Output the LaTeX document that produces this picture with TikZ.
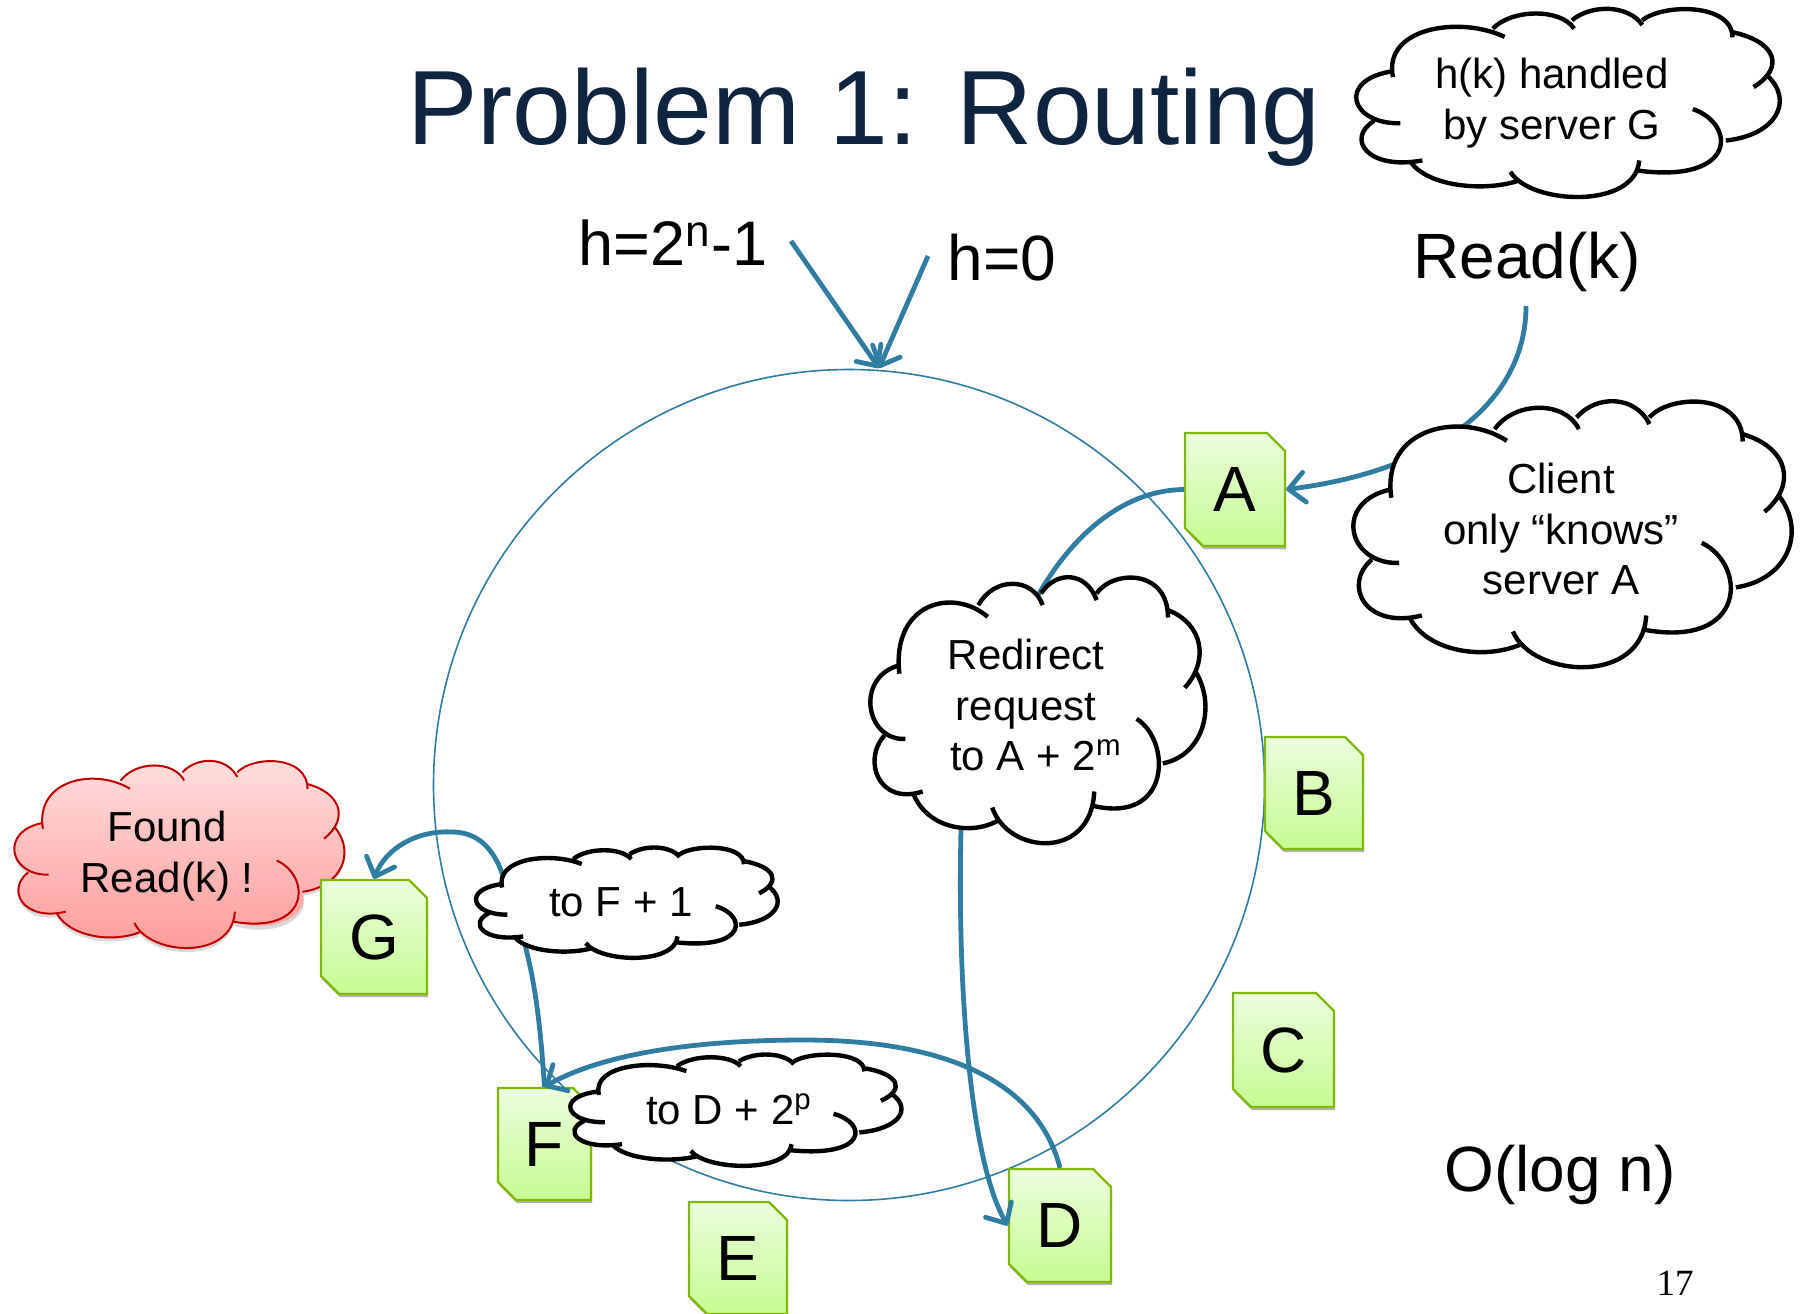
\documentclass[tikz,border=0pt]{standalone}
\usepackage{fontspec}
\setmainfont{Liberation Sans}
\newfontfamily\pagenumfont{Liberation Serif}
\usetikzlibrary{arrows.meta,shapes.misc,shadows}
\definecolor{ringblue}{HTML}{2F7EA2}
\definecolor{titlenavy}{HTML}{0F243E}
\definecolor{srvtop}{HTML}{ECFDDD}
\definecolor{srvbot}{HTML}{C6FB92}
\definecolor{srvline}{HTML}{7FB800}
\definecolor{redtop}{HTML}{FFDFDF}
\definecolor{redbot}{HTML}{FF9797}
\definecolor{redline}{HTML}{C00000}
\newcommand{\cloudoutline}{%
 (178,340) .. controls (155,130) and (330,80) .. (432,170)
 -- (405,135) .. controls (450,50) and (560,50) .. (590,135)
 -- (585,100) .. controls (630,30) and (715,35) .. (745,120)
 -- (745,100) .. controls (790,30) and (950,25) .. (950,172)
 -- (950,150) .. controls (1050,190) and (1070,300) .. (998,382)
 -- (1030,335) .. controls (1090,440) and (1050,585) .. (935,608)
 -- (935,608) .. controls (960,700) and (860,790) .. (735,735)
 -- (738,692) .. controls (730,900) and (490,880) .. (445,740)
 -- (460,780) .. controls (380,825) and (260,800) .. (220,703)
 -- (245,692) .. controls (120,735) and (70,600) .. (135,525)
 -- (195,535) .. controls (80,540) and (50,350) .. (178,315) -- cycle}
\newcommand{\cloudstrokes}{%
 (178,340) .. controls (155,130) and (330,80) .. (432,170)
 (405,135) .. controls (450,50) and (560,50) .. (590,135)
 (585,100) .. controls (630,30) and (715,35) .. (745,120)
 (745,100) .. controls (790,30) and (950,25) .. (950,172)
 (950,150) .. controls (1050,190) and (1070,300) .. (998,382)
 (1030,335) .. controls (1090,440) and (1050,585) .. (935,608)
 (860,475) .. controls (960,540) and (960,790) .. (735,735)
 (738,692) .. controls (730,900) and (490,880) .. (445,740)
 (460,780) .. controls (380,825) and (260,800) .. (220,703)
 (245,692) .. controls (120,735) and (70,600) .. (135,525)
 (195,535) .. controls (80,540) and (50,350) .. (178,315)}
% x y w h fillstyle strokestyle
\newcommand{\placecloud}[6]{%
 \pgfmathsetmacro\sx{#3/980}\pgfmathsetmacro\sy{#4/807}%
 \begin{scope}[shift={({#1-85*\sx},{#2-48*\sy})},xscale=\sx,yscale=\sy]
  \path[#5] \cloudoutline;
  \draw[#6] \cloudstrokes;
 \end{scope}}
\tikzset{
 srv/.style={chamfered rectangle,chamfered rectangle corners={north east,south west},
  chamfered rectangle xsep=4.5pt,chamfered rectangle ysep=4.5pt,inner sep=0pt,draw=srvline,line width=1.2pt,
  top color=srvtop,bottom color=srvbot,font=\fontsize{32}{36}\selectfont,
  drop shadow={shadow xshift=.5pt,shadow yshift=-1.5pt,opacity=.3,fill=black}},
 link/.style={draw=ringblue,line width=2.4pt},
 tip/.style={-{Straight Barb[length=8pt,width=15pt,line width=2.4pt,round]}},
 bigtxt/.style={font=\fontsize{32}{36}\selectfont,anchor=base,inner sep=0pt},
 cloudtxt/.style={font=\fontsize{21}{25.3}\selectfont,align=center,inner sep=0pt},
 plaincloud/.style={fill=white},
 blackline/.style={draw=black,line width=2.2pt},
}
\begin{document}
\begin{tikzpicture}[x=.5pt,y=-.5pt]
\useasboundingbox (0,0) rectangle (1802,1313);
\node[font=\fontsize{52.8}{60}\selectfont,text=titlenavy,anchor=base,inner sep=0pt] (title) at (864,144) {Problem 1: Routing};
\draw[ringblue,line width=.8pt] (849,785) circle [x radius=415.5,y radius=415.5];
% red cloud
\placecloud{11}{760}{336}{190}{top color=redtop,bottom color=redbot,drop shadow={shadow xshift=0pt,shadow yshift=-2pt,opacity=.15,fill=black}}{draw=redline,line width=1pt}
% servers
\node[srv,minimum width=50pt,minimum height=56.5pt] (A) at (1235,489.5) {A};
\node[srv,minimum width=49pt,minimum height=56pt] (B) at (1314,793) {B};
\node[srv,minimum width=50.5pt,minimum height=57pt] (C) at (1283.5,1050) {C};
\node[srv,minimum width=51pt,minimum height=56.5pt] (D) at (1060,1225.5) {D};
\node[srv,minimum width=49pt,minimum height=56pt] (E) at (738,1258) {E};
\node[srv,minimum width=46.5pt,minimum height=56pt] (F) at (544.5,1144) {F};
\node[srv,minimum width=53pt,minimum height=57pt] (G) at (374,937) {G};
% labels
\node[bigtxt,font=\fontsize{31.5}{36}\selectfont] (hmax) at (673,265) {h=2\textsuperscript{n}-1};
\node[bigtxt] (hzero) at (1002,280) {h=0};
\node[bigtxt] (read) at (1527,278) {Read(k)};
\node[bigtxt] (olog) at (1560,1191) {O(log n)};
\node[font=\pagenumfont\fontsize{18.5}{20}\selectfont,anchor=base,inner sep=0pt] (pagenum) at (1675,1295) {17};
\coordinate (ringtop) at (879,368);
\coordinate (hmaxend) at (791,241);
\coordinate (hzeroend) at (928,256);
\coordinate (readend) at (1526,306);
% connectors
\draw[link,tip] (hmaxend) -- (ringtop);
\draw[link,tip] (hzeroend) -- (ringtop);
\draw[link,tip] (readend) .. controls (1526,400) and (1440,470) .. (A.east);
\draw[link,tip] (A.west) .. controls (1120,490) and (1070,540) .. (1040,592)
  .. controls (1000,650) and (962,760) .. (961,830)
  .. controls (957,1000) and (972,1165) .. (D.west);
\draw[link,tip] (D.north) .. controls (1040,1090) and (960,1040) .. (804,1040)
  .. controls (690,1040) and (600,1055) .. (F.north);
\draw[link,tip] (F.north) .. controls (538,990) and (530,950) .. (502,873)
  .. controls (490,840) and (470,832) .. (452,832)
  .. controls (415,830) and (385,850) .. (G.north);
% clouds
\placecloud{1352}{8}{431}{191}{plaincloud}{blackline}
\placecloud{1349}{400}{446}{270}{plaincloud}{blackline}
\placecloud{867}{576}{341}{270}{plaincloud}{blackline}
\placecloud{473}{847}{307}{112}{plaincloud}{blackline}
\placecloud{567}{1054}{337}{113}{plaincloud}{blackline}
\node[cloudtxt] (c1) at (1552,103) {h(k) handled\\by server G};
\node[cloudtxt] (c2) at (1561,529) {Client\\only “knows”\\server A};
\node[cloudtxt] (c3) at (1026,705) {Redirect\\request\\\hspace*{10pt}to A + 2\textsuperscript{m}};
\node[cloudtxt] (c4) at (167,856) {Found\\Read(k) !};
\node[cloudtxt] (c5) at (621,902) {to F + 1};
\node[cloudtxt] (c6) at (729,1109) {to D + 2\textsuperscript{p}};
\end{tikzpicture}
\end{document}
